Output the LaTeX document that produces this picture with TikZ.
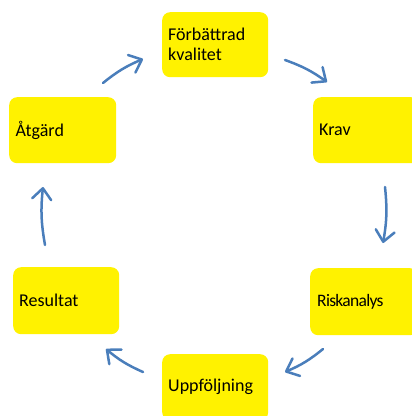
\documentclass[tikz,border=0pt]{standalone}
\usepackage{fontspec}
\setmainfont{Carlito}
\usetikzlibrary{arrows.meta}
\definecolor{arrowblue}{HTML}{4A7EBB}
\tikzset{
  box/.style={fill=yellow, rounded corners=8pt, anchor=north west,
    minimum width=106pt, minimum height=66pt, inner xsep=6pt, inner ysep=0pt,
    text width=94pt, align=left, font=\fontsize{18}{20}\selectfont},
  cyc/.style={draw=arrowblue, line width=2.5pt, line cap=round,
    -{Straight Barb[length=11pt,width=19pt,line cap=round,round]}, bend left=8}
}
\begin{document}
\begin{tikzpicture}[x=1pt,y=-1pt]
\useasboundingbox (0,0) rectangle (412,416);
\node[box, minimum height=65pt] (forb) at (162,12) {Förbättrad\\kvalitet};
\node[box, minimum width=107pt] (atg) at (9,97) {Åtgärd};
\node[box] (krav) at (313,97) {Krav};
\node[box, minimum height=67pt] (res) at (13,267) {Resultat};
\node[box, minimum height=67pt, inner xsep=7pt, font=\fontsize{17.5}{20}\selectfont\addfontfeature{LetterSpace=-4}] (risk) at (310,268) {Riskanalys};
\node[box] (upp) at (162,354) {Uppföljning};
\coordinate (a1s) at (103,83);  \coordinate (a1e) at (143,59);
\coordinate (a2s) at (285,60);  \coordinate (a2e) at (327,82);
\coordinate (a3s) at (385,187); \coordinate (a3e) at (383,243);
\coordinate (a4s) at (323,349); \coordinate (a4e) at (285,372);
\coordinate (a5s) at (143,372); \coordinate (a5e) at (106,349);
\coordinate (a6s) at (45,245);  \coordinate (a6e) at (43,187);
\draw[cyc] (a1s) to (a1e);
\draw[cyc] (a2s) to (a2e);
\draw[cyc] (a3s) to (a3e);
\draw[cyc] (a4s) to (a4e);
\draw[cyc] (a5s) to (a5e);
\draw[cyc] (a6s) to (a6e);
\end{tikzpicture}
\end{document}
